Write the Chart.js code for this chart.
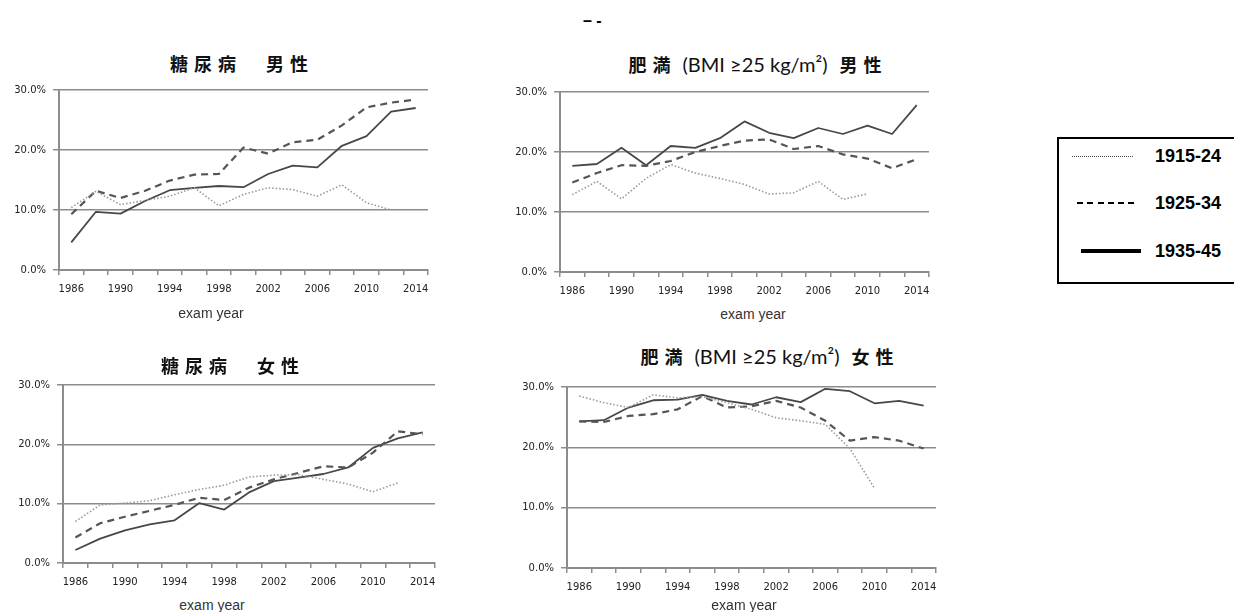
<!DOCTYPE html>
<html>
<head>
<meta charset="utf-8">
<script src="https://cdn.jsdelivr.net/npm/chart.js@4.4.1/dist/chart.umd.min.js"></script>
<style>
  body { margin:0; width:1234px; height:612px; background:#fff; position:relative; overflow:hidden; font-family:"Liberation Sans", Arial, sans-serif; }
  canvas { position:absolute; }
  .title { position:absolute; transform:translate(-50%,-50%); white-space:nowrap; font-family:"Noto Sans CJK JP", sans-serif; font-weight:700; font-size:18px; color:#111; line-height:1; }
  .cjk { letter-spacing:6px; }
  .lat { font-family:Lato, "Open Sans", sans-serif; font-weight:400; font-size:20px; letter-spacing:0; margin-left:2px; margin-right:8px; }
  .xt { position:absolute; transform:translate(-50%,-50%); font-family:"Liberation Sans", Arial, sans-serif; font-size:14px; color:#333; white-space:nowrap; line-height:1; }
  #legend { position:absolute; left:1057px; top:137px; width:200px; height:147px; border:2px solid #000; box-sizing:border-box; }
  .lg-line { position:absolute; }
  .lg-text { position:absolute; transform:translateY(-50%); font-family:"Liberation Sans", Arial, sans-serif; font-weight:700; font-size:18px; color:#000; line-height:1; white-space:nowrap; }
  #topmark { position:absolute; left:583px; top:13px; font-family:"Liberation Sans", Arial, sans-serif; font-weight:700; font-size:16px; color:#000; line-height:1; }
</style>
</head>
<body>
<div id="topmark">– -</div>

<canvas id="c1"></canvas>
<canvas id="c2"></canvas>
<canvas id="c3"></canvas>
<canvas id="c4"></canvas>

<div class="title" style="left:242px;top:63px;"><span class="cjk">糖尿病　男性</span></div>
<div class="title" style="left:758px;top:64px;"><span class="cjk">肥満</span> <span class="lat">(BMI ≥25 kg/m²)</span> <span class="cjk">男性</span></div>
<div class="title" style="left:233px;top:365px;"><span class="cjk">糖尿病　女性</span></div>
<div class="title" style="left:770px;top:356px;"><span class="cjk">肥満</span> <span class="lat">(BMI ≥25 kg/m²)</span> <span class="cjk">女性</span></div>

<div class="xt" style="left:211px;top:313px;">exam year</div>
<div class="xt" style="left:753px;top:314px;">exam year</div>
<div class="xt" style="left:212px;top:605px;">exam year</div>
<div class="xt" style="left:744px;top:605px;">exam year</div>

<div id="legend"></div>

<script>
// Examination years (every two years) and the years that carry a printed label
const examYears = ['1986','1988','1990','1992','1994','1996','1998','2000','2002','2004','2006','2008','2010','2012','2014'];
const tickYears = ['1986','1990','1994','1998','2002','2006','2010','2014'];

// Birth cohorts
const cohorts = ['1915-24','1925-34','1935-45'];

// Y axis range (percent)
const yMin = 0, yMax = 30, yStep = 10;

// Diabetes prevalence, men (%)
const dmMale1915 = [10.4,13.1,10.9,11.6,12.3,13.7,10.7,12.6,13.7,13.4,12.3,14.2,11.2,10.0,null];
const dmMale1925 = [9.3,13.2,12.0,13.2,14.9,15.9,16.0,20.4,19.4,21.3,21.7,24.1,27.1,27.9,28.4];
const dmMale1935 = [4.6,9.7,9.4,11.5,13.3,13.7,14.0,13.8,16.0,17.4,17.1,20.7,22.3,26.4,27.0];

// Obesity (BMI >= 25) prevalence, men (%)
const obMale1915 = [12.9,15.1,12.2,15.6,17.9,16.5,15.6,14.6,13.0,13.2,15.1,12.1,13.0,null,null];
const obMale1925 = [14.9,16.5,17.8,17.7,18.5,20.0,21.0,21.9,22.1,20.5,21.0,19.6,18.9,17.3,18.8];
const obMale1935 = [17.7,18.0,20.7,17.8,21.0,20.7,22.3,25.1,23.2,22.3,24.0,23.0,24.4,23.0,27.8];

// Diabetes prevalence, women (%)
const dmFemale1915 = [7.0,9.8,10.1,10.5,11.5,12.4,13.1,14.5,14.8,14.9,14.1,13.3,12.0,13.5,null];
const dmFemale1925 = [4.3,6.7,7.8,8.8,9.8,11.0,10.6,12.7,14.1,15.2,16.3,16.1,18.6,22.2,21.7];
const dmFemale1935 = [2.2,4.1,5.5,6.5,7.2,10.1,9.0,11.9,13.8,14.4,15.0,16.1,19.4,21.0,22.0];

// Obesity (BMI >= 25) prevalence, women (%)
const obFemale1915 = [28.5,27.4,26.6,28.7,28.2,28.4,27.4,26.3,24.9,24.4,23.8,19.8,13.2,null,null];
const obFemale1925 = [24.3,24.2,25.2,25.5,26.3,28.5,26.6,26.8,27.7,26.6,24.4,21.1,21.7,21.1,19.8];
const obFemale1935 = [24.3,24.5,26.6,27.8,27.9,28.7,27.7,27.1,28.3,27.5,29.7,29.3,27.3,27.7,26.9];

// Line styles per cohort
const cohortStyles = [
  { borderColor:'#9a9a9a', borderWidth:1.6, borderDash:[1.5,2] },
  { borderColor:'#555555', borderWidth:2.2, borderDash:[7,5] },
  { borderColor:'#474747', borderWidth:1.8, borderDash:[] }
];

const AXIS = '#8c8c8c';
const Y_AXIS_W = 55, X_AXIS_H = 30, PAD_TOP = 10, PAD_RIGHT = 10;

function makePanel(id, area, series) {
  const cv = document.getElementById(id);
  const w = area.right - area.left + Y_AXIS_W + PAD_RIGHT;
  const h = area.bottom - area.top + PAD_TOP + X_AXIS_H;
  cv.width = w; cv.height = h;
  cv.style.left = (area.left - Y_AXIS_W) + 'px';
  cv.style.top = (area.top - PAD_TOP) + 'px';
  cv.style.width = w + 'px'; cv.style.height = h + 'px';

  new Chart(cv, {
    type: 'line',
    data: {
      labels: examYears,
      datasets: series.map((d, i) => Object.assign({
        label: cohorts[i], data: d, fill:false, tension:0,
        pointRadius:0, pointHoverRadius:0, spanGaps:false,
        borderCapStyle:'butt', borderJoinStyle:'round'
      }, cohortStyles[i]))
    },
    options: {
      responsive:false, animation:false, devicePixelRatio:1,
      layout:{ padding:{ top:PAD_TOP, right:PAD_RIGHT, left:0, bottom:0 } },
      plugins:{ legend:{ display:false }, tooltip:{ enabled:false } },
      scales:{
        x:{
          type:'category', offset:true,
          grid:{ offset:true, drawOnChartArea:false, drawTicks:true, tickLength:5, color:AXIS, lineWidth:1.5 },
          border:{ display:true, color:AXIS, width:2 },
          ticks:{
            autoSkip:false, maxRotation:0, minRotation:0, padding:8, color:'#222',
            font:{ family:'DejaVu Sans', size:10 },
            callback(v){ const l = this.getLabelForValue(v); return tickYears.includes(l) ? l : ''; }
          },
          afterFit(s){ s.height = X_AXIS_H; }
        },
        y:{
          min:yMin, max:yMax,
          grid:{ color:AXIS, lineWidth:1.5, tickLength:6 },
          border:{ display:true, color:AXIS, width:2 },
          ticks:{ stepSize:yStep, padding:7, color:'#222', font:{ family:'DejaVu Sans', size:10 },
                  callback:v => v.toFixed(1) + '%' },
          afterFit(s){ s.width = Y_AXIS_W; }
        }
      }
    }
  });
}

makePanel('c1', { left:59, right:428, top:87, bottom:270 }, [dmMale1915, dmMale1925, dmMale1935]);
makePanel('c2', { left:560, right:929, top:89, bottom:272 }, [obMale1915, obMale1925, obMale1935]);
makePanel('c3', { left:63, right:435, top:382, bottom:563 }, [dmFemale1915, dmFemale1925, dmFemale1935]);
makePanel('c4', { left:567, right:936, top:384, bottom:568 }, [obFemale1915, obFemale1925, obFemale1935]);

// Cohort legend box
const legendLines = [
  { x1:1072, x2:1133, y:156, css:'border-top:1px dotted #444;' },
  { x1:1077, x2:1138, y:203, css:'height:2px;background:repeating-linear-gradient(90deg,#000 0 6px,transparent 6px 10.3px);' },
  { x1:1081, x2:1141, y:251, css:'height:4px;background:#000;' }
];
const legendTextX = 1155;
cohorts.forEach((name, i) => {
  const ln = legendLines[i];
  const line = document.createElement('div');
  line.className = 'lg-line';
  const hh = i === 0 ? 1 : (i === 1 ? 2 : 4);
  line.style.cssText = 'position:absolute;left:' + ln.x1 + 'px;top:' + (ln.y - hh / 2) + 'px;width:' + (ln.x2 - ln.x1) + 'px;' + ln.css;
  document.body.appendChild(line);
  const t = document.createElement('div');
  t.className = 'lg-text';
  t.style.left = legendTextX + 'px';
  t.style.top = ln.y + 'px';
  t.textContent = name;
  document.body.appendChild(t);
});
</script>
</body>
</html>
